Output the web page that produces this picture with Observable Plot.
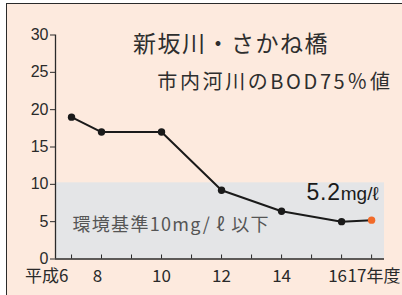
<!DOCTYPE html>
<html>
<head>
<meta charset="utf-8">
<script src="https://cdn.jsdelivr.net/npm/d3@7"></script>
<script src="https://cdn.jsdelivr.net/npm/@observablehq/plot@0.6"></script>
<style>
  html, body { margin: 0; padding: 0; background: #fff; }
  #wrap { position: relative; width: 402px; height: 295px; overflow: hidden; }
  #box { position: absolute; left: 6px; top: 3px; width: 420px; height: 320px;
         background: #fdeade; border-left: 1.5px solid #2a2a2a; border-top: 1.5px solid #2a2a2a; }
  #chart { position: absolute; left: 0; top: 0; }
</style>
</head>
<body>
<div id="wrap"><div id="box"></div><div id="chart"></div></div>
<script>
// ---- data ----
const years = [6, 8, 10, 12, 14, 16, 17];
const bod = [19.0, 17.0, 17.0, 9.2, 6.4, 5.0, 5.2];
const yTicks = [0, 5, 10, 15, 20, 25, 30];
const xTicks = [6, 8, 9, 10, 11, 12, 13, 14, 15, 16, 17];
const xLabelYears = [6, 8, 10, 12, 14, 16, 17];
const xLabels = ["平成6", "8", "10", "12", "14", "16", "17年度"];
const bandTop = 10.2;
const title = "新坂川・さかね橋";
const subtitle = "市内河川のBOD75％値";
const latestLabel = "5.2mg/ℓ";
const standardLabel = "環境基準10mg/ ℓ 以下";

const pts = years.map((x, i) => ({x, y: bod[i], last: i === years.length - 1}));
const labs = xLabelYears.map((x, i) => ({x, t: xLabels[i], i}));

const SANS = "'Liberation Sans', Arial, sans-serif";
const CJK = "'Noto Sans CJK JP', 'Noto Sans', sans-serif";
const xDomain = [4.93, 8, 17.43];

const labelOpts = {x: "x", text: "t", frameAnchor: "bottom", fontSize: 17, fontFamily: CJK, fill: "#2a2a2a", lineAnchor: "top"};

const plot = Plot.plot({
  width: 402,
  height: 295,
  marginLeft: 55,
  marginRight: 18,
  marginTop: 34.5,
  marginBottom: 36.5,
  style: {background: "transparent", overflow: "visible"},
  x: {type: "linear", domain: xDomain, range: [55, 101, 384], axis: null},
  y: {domain: [0, 30]},
  marks: [
    Plot.rect([{y1: 0, y2: bandTop}], {y1: "y1", y2: "y2", fill: "#e4e5e7"}),
    Plot.ruleY([0], {stroke: "#2a2a2a", strokeWidth: 1.3}),
    Plot.ruleX([xDomain[0]], {y1: 0, y2: 30, stroke: "#2a2a2a", strokeWidth: 1.3}),
    Plot.ruleX(xTicks, {x: d => d, y1: 0, y2: 0, insetTop: -4, stroke: "#2a2a2a", strokeWidth: 1}),
    Plot.axisY({ticks: yTicks, tickSize: 5, tickPadding: 2, fontSize: 16, fontFamily: SANS, color: "#2a2a2a", label: null}),
    Plot.text(labs, {...labelOpts, filter: d => d.i === 0, textAnchor: "end", dx: -3, dy: 11}),
    Plot.text(labs, {...labelOpts, filter: d => d.t === "8" || d.t === "16", dx: -4, dy: 11}),
    Plot.text(labs, {...labelOpts, filter: d => ["10", "12", "14"].includes(d.t), dy: 11}),
    Plot.text(labs, {...labelOpts, filter: d => d.i === xLabels.length - 1, textAnchor: "start", dx: -24, dy: 11}),
    Plot.line(pts, {x: "x", y: "y", stroke: "#1a1a1a", strokeWidth: 2}),
    Plot.dot(pts, {x: "x", y: "y", r: 3.7, fill: d => d.last ? "#f26b2a" : "#1a1a1a", stroke: "none"}),
    Plot.text([title], {frameAnchor: "top", dx: 11, dy: 1, fontSize: 23, fontFamily: CJK, fill: "#2e2e2e"}),
    Plot.text([subtitle], {frameAnchor: "top-right", textAnchor: "end", dx: 8, dy: 40, fontSize: 20, fontFamily: CJK, fill: "#2e2e2e"}),
    Plot.text(pts.filter(d => d.last), {x: "x", y: "y", text: () => latestLabel, textAnchor: "end", dx: 7, dy: -27, fontSize: 20, fontFamily: SANS, fill: "#1a1a1a"}),
    Plot.text([standardLabel], {frameAnchor: "bottom-left", textAnchor: "start", dx: 17, dy: -28.5, fontSize: 18, fontFamily: CJK, fill: "#555"})
  ]
});
document.getElementById("chart").appendChild(plot);

// typographic tweaks
plot.querySelectorAll("text").forEach(t => {
  const s = t.textContent;
  if (s === title) t.setAttribute("letter-spacing", "1.5");
  if (s === subtitle) t.setAttribute("letter-spacing", "2.6");
  if (s === standardLabel) t.setAttribute("letter-spacing", "1.3");
  if (s === latestLabel) {
    t.textContent = "";
    const a = document.createElementNS("http://www.w3.org/2000/svg", "tspan");
    a.textContent = "5.2"; a.setAttribute("font-size", "23"); a.setAttribute("letter-spacing", "0.8");
    const b = document.createElementNS("http://www.w3.org/2000/svg", "tspan");
    b.textContent = "mg/ℓ"; b.setAttribute("font-size", "19");
    t.appendChild(a); t.appendChild(b);
  }
});
</script>
</body>
</html>
